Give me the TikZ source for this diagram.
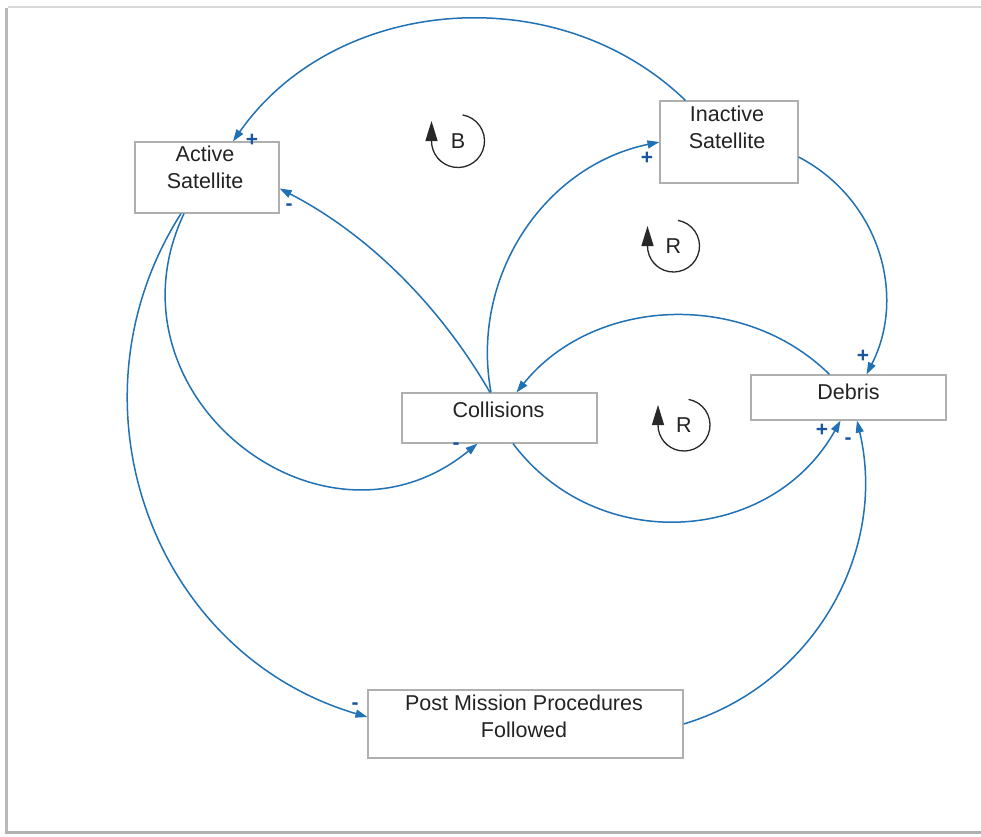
\documentclass[tikz,border=0pt]{standalone}
\usepackage{fontspec}
\setmainfont{Liberation Sans}
\usetikzlibrary{arrows.meta}
\definecolor{linkblue}{RGB}{33,113,181}
\definecolor{signblue}{RGB}{25,85,160}
\definecolor{boxgray}{RGB}{175,175,175}
\definecolor{textgray}{RGB}{35,35,35}
\definecolor{loopgray}{RGB}{40,40,40}

\begin{document}
\begin{tikzpicture}[x=1pt,y=1pt,
  varbox/.style={draw=boxgray, line width=1.2pt, fill=white, inner sep=0pt, rectangle},
  varname/.style={font=\fontsize{21.5}{27.5}\selectfont, text=textgray, align=center, inner sep=0pt, anchor=north},
  link/.style={draw=linkblue, line width=1.5pt, -{Triangle[length=12pt,width=8pt]}},
  sign/.style={font=\bfseries\fontsize{21}{21}\selectfont, text=signblue, inner sep=0pt},
  loopname/.style={font=\fontsize{21.5}{21.5}\selectfont, text=textgray, inner sep=0pt},
  loopring/.style={draw=loopgray, line width=1.3pt, -{Triangle[length=20pt,width=12pt]}},
]
\useasboundingbox (0,0) rectangle (981,-836);
\fill[white] (0,0) rectangle (981,-836);

% sheet edge with its shadow
\draw[gray!30, line width=1.5pt] (8,-7) -- (981,-7);
\draw[gray!55, line width=3pt] (6,-8) -- (6,-832);
\draw[gray!60, line width=3pt] (5,-832.5) -- (981,-832.5);

% variables
\node[varbox, minimum width=144pt, minimum height=71pt] (active) at (207,-177.5) {};
\node[varbox, minimum width=138pt, minimum height=82pt] (inact) at (729,-142) {};
\node[varbox, minimum width=195pt, minimum height=50pt] (coll) at (499.5,-418) {};
\node[varbox, minimum width=195pt, minimum height=45pt] (debris) at (848.5,-397.5) {};
\node[varbox, minimum width=315pt, minimum height=68pt] (post) at (525.5,-724) {};

\node[varname] (activeT) at ([xshift=-2,yshift=-4.3]active.north) {Active\\Satellite};
\node[varname] (inactT) at ([xshift=-2,yshift=-5.3]inact.north) {Inactive\\Satellite};
\node[varname] (collT) at ([xshift=-1,yshift=-9.1]coll.north) {Collisions};
\node[varname] (debrisT) at ([xshift=0,yshift=-9.2]debris.north) {Debris};
\node[varname] (postT) at ([xshift=-1.5,yshift=-5.3]post.north) {Post Mission Procedures\\Followed};

% causal links
\draw[link] ([xshift=26]inact.north west) to[out=136, in=55, out distance=178, in distance=178] ([xshift=26]active.north);
\draw[link] ([xshift=-9.5]coll.north) to[out=120, in=-27.3, out distance=100, in distance=100] ([yshift=-11]active.east);
\draw[link] ([xshift=-8.5]coll.north) to[out=100.4, in=191.7, out distance=117.7, in distance=117.7] (inact.west);
\draw[link] ([yshift=-15]inact.east) to[out=-27.5, in=62.9, out distance=89.7, in distance=89.7] ([xshift=18]debris.north);
\draw[link] ([xshift=-19]debris.north) to[out=135.5, in=51.1, out distance=122, in distance=122] ([xshift=17]coll.north);
\draw[link] ([xshift=-23]active.south) to[out=244.7, in=219.3, out distance=200, in distance=200] ([xshift=-22]coll.south);
\draw[link] ([xshift=-26]active.south) to[out=237.5, in=163.6, out distance=224.1, in distance=224.1] ([yshift=7]post.west);
\draw[link] ([xshift=13.5]coll.south) to[out=307, in=240.8, out distance=141.3, in distance=141.3] ([xshift=-8]debris.south);
\draw[link] (post.east) to[out=16.7, in=283.3, out distance=135, in distance=135] ([xshift=8.5]debris.south);

% link polarities
\node[sign] (p1) at (252,-140) {+};
\node[sign] (p2) at (289,-207) {-};
\node[sign] (p3) at (647,-158) {+};
\node[sign] (p4) at (863,-356) {+};
\node[sign] (p5) at (456,-446) {-};
\node[sign] (p6) at (822,-430) {+};
\node[sign] (p7) at (848,-441) {-};
\node[sign] (p8) at (355,-706) {-};

% loop markers
\node[loopname] (loopB) at (458,-141) {B};
\node[loopname] (loopR1) at (673.5,-246) {R};
\node[loopname] (loopR2) at (684,-425) {R};
\draw[loopring] ([shift={(80:26.5)}]loopB.center) arc[start angle=80, end angle=-180, radius=26.5] -- ++(0,20);
\draw[loopring] ([shift={(80:26)}]loopR1.center) arc[start angle=80, end angle=-180, radius=26] -- ++(0,20);
\draw[loopring] ([shift={(80:26)}]loopR2.center) arc[start angle=80, end angle=-180, radius=26] -- ++(0,20);
\end{tikzpicture}
\end{document}
